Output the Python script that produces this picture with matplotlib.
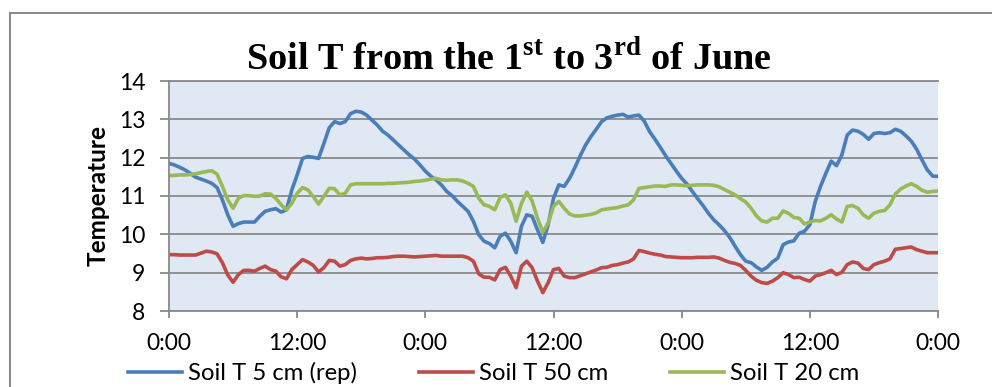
import numpy as np
import matplotlib
matplotlib.use('Agg')
import matplotlib.pyplot as plt
from matplotlib.lines import Line2D

plt.rcParams['font.family'] = ['Lato', 'DejaVu Sans']
plt.rcParams['mathtext.fontset'] = 'custom'
plt.rcParams['mathtext.rm'] = 'Liberation Serif:bold'
plt.rcParams['mathtext.bf'] = 'Liberation Serif:bold'

# half-hourly readings, 1st June 0:00 to 4th June 0:00
hours = np.arange(0, 72.5, 0.5)

soil_5cm = [
    11.85, 11.81, 11.75, 11.68, 11.59, 11.49, 11.44, 11.39, 11.33, 11.22, 10.90, 10.51,
    10.21, 10.28, 10.32, 10.32, 10.32, 10.47, 10.60, 10.64, 10.67, 10.58, 10.64, 11.16,
    11.55, 11.98, 12.03, 12.01, 11.98, 12.37, 12.78, 12.94, 12.89, 12.94, 13.15, 13.21,
    13.19, 13.11, 12.98, 12.85, 12.69, 12.59, 12.46, 12.33, 12.20, 12.07, 11.96, 11.81,
    11.65, 11.52, 11.42, 11.29, 11.12, 11.01, 10.86, 10.73, 10.60, 10.34, 9.99, 9.82,
    9.76, 9.65, 9.95, 10.03, 9.82, 9.52, 10.21, 10.51, 10.47, 10.12, 9.79, 10.25,
    10.94, 11.29, 11.25, 11.46, 11.74, 12.05, 12.33, 12.55, 12.74, 12.94, 13.04, 13.08,
    13.11, 13.13, 13.06, 13.09, 13.11, 12.95, 12.68, 12.48, 12.27, 12.05, 11.85, 11.65,
    11.46, 11.31, 11.12, 10.93, 10.75, 10.55, 10.38, 10.25, 10.10, 9.92, 9.69, 9.47,
    9.30, 9.26, 9.15, 9.06, 9.14, 9.28, 9.38, 9.73, 9.80, 9.83, 10.03, 10.08,
    10.25, 10.85, 11.25, 11.59, 11.91, 11.79, 12.07, 12.59, 12.72, 12.69, 12.61, 12.48,
    12.63, 12.65, 12.63, 12.65, 12.74, 12.69, 12.57, 12.43, 12.22, 11.94, 11.68, 11.52,
    11.51,
]

soil_50cm = [
    9.47, 9.47, 9.46, 9.46, 9.46, 9.46, 9.51, 9.56, 9.54, 9.49, 9.26, 8.94,
    8.75, 8.95, 9.06, 9.06, 9.04, 9.11, 9.17, 9.08, 9.04, 8.89, 8.84, 9.08,
    9.21, 9.34, 9.28, 9.19, 9.02, 9.13, 9.32, 9.30, 9.17, 9.21, 9.32, 9.36,
    9.38, 9.36, 9.37, 9.39, 9.39, 9.40, 9.42, 9.43, 9.43, 9.42, 9.41, 9.42,
    9.43, 9.44, 9.45, 9.43, 9.43, 9.43, 9.43, 9.43, 9.39, 9.30, 8.97, 8.88,
    8.88, 8.81, 9.08, 9.14, 8.91, 8.61, 9.17, 9.30, 9.13, 8.78, 8.48, 8.74,
    9.08, 9.11, 8.91, 8.87, 8.87, 8.92, 8.97, 9.02, 9.07, 9.13, 9.14, 9.19,
    9.21, 9.25, 9.28, 9.36, 9.58, 9.55, 9.51, 9.48, 9.46, 9.42, 9.41, 9.40,
    9.39, 9.39, 9.39, 9.40, 9.40, 9.40, 9.41, 9.38, 9.32, 9.27, 9.24, 9.19,
    9.06, 8.91, 8.80, 8.74, 8.72, 8.78, 8.87, 9.00, 8.95, 8.87, 8.88, 8.82,
    8.78, 8.91, 8.95, 9.00, 9.06, 8.95, 9.01, 9.21, 9.28, 9.25, 9.11, 9.08,
    9.21, 9.26, 9.30, 9.36, 9.61, 9.63, 9.65, 9.67, 9.60, 9.56, 9.52, 9.52,
    9.52,
]

soil_20cm = [
    11.53, 11.54, 11.55, 11.55, 11.56, 11.58, 11.61, 11.64, 11.66, 11.57, 11.25, 10.90,
    10.68, 10.94, 11.01, 11.01, 10.99, 11.00, 11.06, 11.05, 10.94, 10.77, 10.64, 10.81,
    11.07, 11.22, 11.16, 10.99, 10.79, 10.99, 11.20, 11.19, 11.03, 11.07, 11.29, 11.32,
    11.32, 11.32, 11.32, 11.32, 11.32, 11.33, 11.33, 11.34, 11.35, 11.36, 11.38, 11.39,
    11.41, 11.44, 11.46, 11.42, 11.41, 11.42, 11.42, 11.39, 11.33, 11.25, 10.94, 10.77,
    10.73, 10.64, 10.96, 11.03, 10.81, 10.34, 10.81, 11.10, 10.87, 10.42, 10.06, 10.29,
    10.73, 10.86, 10.68, 10.53, 10.48, 10.48, 10.50, 10.52, 10.56, 10.64, 10.66, 10.68,
    10.70, 10.74, 10.77, 10.90, 11.20, 11.22, 11.24, 11.26, 11.26, 11.25, 11.29, 11.29,
    11.28, 11.27, 11.28, 11.29, 11.29, 11.29, 11.28, 11.24, 11.17, 11.10, 11.03, 10.93,
    10.84, 10.68, 10.48, 10.35, 10.32, 10.42, 10.42, 10.61, 10.55, 10.44, 10.42, 10.27,
    10.32, 10.36, 10.35, 10.42, 10.51, 10.40, 10.32, 10.73, 10.75, 10.68, 10.51, 10.42,
    10.55, 10.60, 10.62, 10.77, 11.05, 11.18, 11.26, 11.32, 11.25, 11.15, 11.10, 11.12,
    11.13,
]

tick_hours = [0, 12, 24, 36, 48, 60, 72]
tick_labels = ['0:00', '12:00', '0:00', '12:00', '0:00', '12:00', '0:00']
series_names = ['Soil T 5 cm (rep)', 'Soil T 50 cm', 'Soil T 20 cm']
series_colors = ['#4a7ebb', '#be4b48', '#98b954']

W, H = 992, 387
fig = plt.figure(figsize=(W / 100, H / 100), dpi=100)
ax = fig.add_axes([169 / W, 1 - 311 / H, 769 / W, 230 / H])

grid_col = '#898989'
ax.set_facecolor('#dfe8f3')
for vals, name, col in zip([soil_5cm, soil_50cm, soil_20cm], series_names, series_colors):
    ax.plot(hours, vals, color=col, lw=2.6, label=name, solid_joinstyle='round')

ax.set_xlim(0, 72)
ax.set_ylim(8, 14)
ax.set_yticks(range(8, 15))
ax.set_xticks(tick_hours)
ax.set_xticklabels(tick_labels)
ax.yaxis.grid(True, color=grid_col, lw=1.3)
ax.set_axisbelow(True)

for side in ['left', 'bottom', 'top']:
    ax.spines[side].set_color(grid_col)
    ax.spines[side].set_linewidth(1.3)
ax.spines['right'].set_visible(False)

ax.tick_params(axis='y', direction='out', length=6.5, width=1.3, color=grid_col,
               pad=10.5, labelsize=16.5, labelcolor='black')
ax.tick_params(axis='x', direction='out', length=5, width=1.3, color=grid_col,
               pad=10.5, labelsize=16.5, labelcolor='black')

ax.set_ylabel('Temperature', fontsize=17.5, fontweight='bold', labelpad=7)

fig.text(509 / W, 1 - 70 / H,
         r'Soil T from the 1$^{\mathrm{st}}$ to 3$^{\mathrm{rd}}$ of June',
         family='Liberation Serif', fontweight='bold', fontsize=27.5,
         ha='center', va='baseline')

fig.legend(loc='center left', bbox_to_anchor=(128 / W, 1 - 373 / H), ncol=3,
           frameon=False, fontsize=17.2, handlelength=2.25, handletextpad=0.25,
           columnspacing=2.6, borderpad=0, borderaxespad=0)

# chart border
border = dict(color='#8c8c8c', lw=1.5, transform=fig.transFigure)
fig.add_artist(Line2D([10 / W, 1], [1 - 13 / H, 1 - 13 / H], **border))
fig.add_artist(Line2D([10 / W, 10 / W], [0, 1 - 13 / H], **border))

fig.savefig('out.png', dpi=100)
